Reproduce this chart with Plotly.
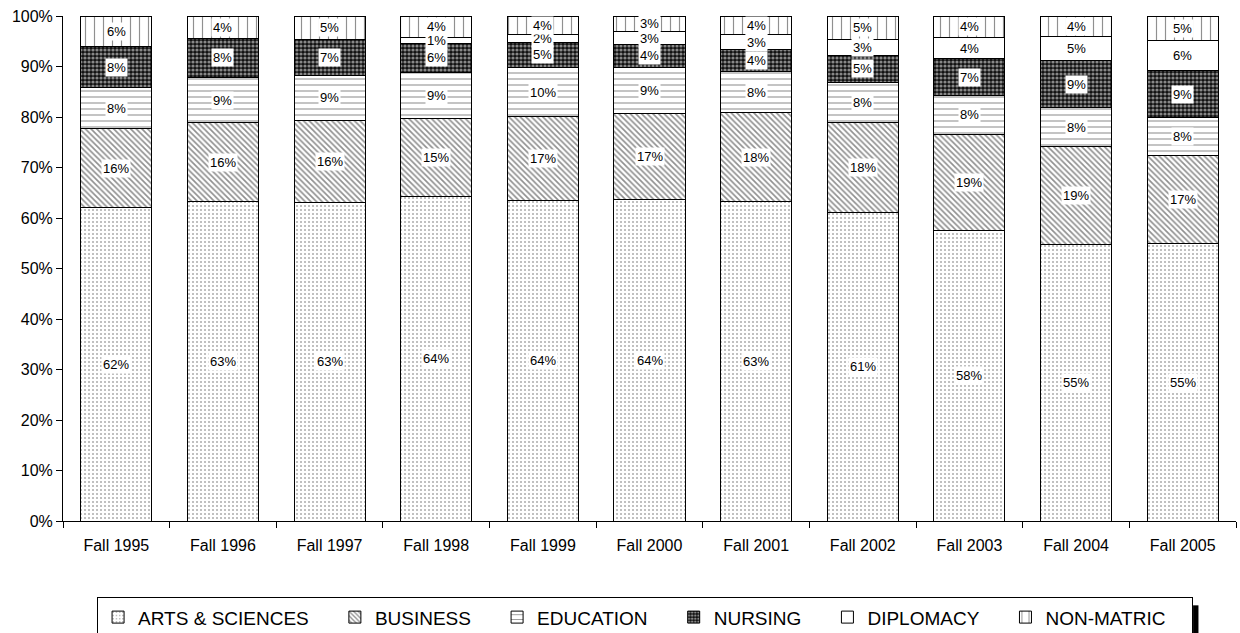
import plotly.graph_objects as go

categories = ["Fall 1995", "Fall 1996", "Fall 1997", "Fall 1998", "Fall 1999", "Fall 2000",
              "Fall 2001", "Fall 2002", "Fall 2003", "Fall 2004", "Fall 2005"]

arts_sciences = [62.0, 63.2, 63.0, 64.3, 63.5, 63.6, 63.2, 61.0, 57.6, 54.8, 54.9]
business      = [15.7, 15.7, 16.4, 15.4, 16.6, 17.1, 17.7, 17.9, 19.0, 19.4, 17.4]
education     = [8.1, 8.9, 8.9, 9.2, 9.7, 9.2, 8.1, 8.0, 7.6, 7.6, 7.6]
nursing       = [8.2, 7.8, 7.1, 5.6, 5.0, 4.4, 4.4, 5.3, 7.3, 9.3, 9.3]
diplomacy     = [0.0, 0.0, 0.0, 1.2, 1.6, 2.6, 2.9, 3.2, 4.3, 4.8, 6.0]
non_matric    = [6.0, 4.4, 4.6, 4.3, 3.6, 3.1, 3.7, 4.6, 4.2, 4.1, 4.8]

series_names = ["ARTS & SCIENCES", "BUSINESS", "EDUCATION", "NURSING", "DIPLOMACY", "NON-MATRIC"]
series_values = [arts_sciences, business, education, nursing, diplomacy, non_matric]
series_patterns = [
    dict(shape=".", fgcolor="#555555", bgcolor="white", size=4, solidity=0.2),
    dict(shape="\\", fgcolor="#222222", bgcolor="white", size=4, solidity=0.42),
    dict(shape="-", fgcolor="#222222", bgcolor="white", size=6, solidity=0.18),
    dict(shape=".", fgcolor="white", bgcolor="#111111", size=4, solidity=0.5),
    dict(shape="", fgcolor="black", bgcolor="white"),
    dict(shape="|", fgcolor="#222222", bgcolor="white", size=9, solidity=0.13),
]

FONT = "Arial, Liberation Sans, sans-serif"
PAD = "\u00a0" * 4  # spacing between legend entries

fig = go.Figure()
annotations = []
base = [0.0] * len(categories)
for name, vals, pat in zip(series_names, series_values, series_patterns):
    fig.add_trace(go.Bar(
        name=name + PAD, x=categories, y=vals,
        marker=dict(color="white", pattern=pat, line=dict(color="black", width=1)),
        hovertemplate="%{x}<br>" + name + ": %{y:.1f}%<extra></extra>",
    ))
    for i, v in enumerate(vals):
        if v >= 0.5:
            annotations.append(dict(
                x=categories[i], y=base[i] + v / 2, xref="x", yref="y",
                text=f"{round(v)}%", showarrow=False,
                font=dict(family=FONT, size=13, color="black"),
                bgcolor="white", borderpad=1,
            ))
        base[i] += v

fig.update_layout(
    barmode="stack",
    bargap=0.334,
    width=1240, height=633,
    margin=dict(l=63, r=4, t=16, b=112, autoexpand=False),
    paper_bgcolor="white", plot_bgcolor="white",
    font=dict(family=FONT, size=16, color="black"),
    annotations=annotations,
    showlegend=True,
    legend=dict(
        orientation="h", x=0.9634, xanchor="right", y=-0.151, yanchor="top",
        bordercolor="black", borderwidth=1, bgcolor="white",
        font=dict(family=FONT, size=19, color="black"),
        traceorder="normal",
    ),
    shapes=[dict(type="rect", xref="paper", yref="paper",
                 x0=0.9634, x1=0.9680, y0=-0.167, y1=-0.23,
                 fillcolor="black", line=dict(width=0))],
)
fig.update_xaxes(
    showline=True, linecolor="black", linewidth=1, automargin=False,
    ticks="outside", ticklen=6, tickcolor="black", tickson="boundaries",
    ticklabelstandoff=10,
    tickfont=dict(family=FONT, size=16), showgrid=False,
)
fig.update_yaxes(
    range=[0, 100], dtick=10, ticksuffix="%", automargin=False,
    showline=True, linecolor="black", linewidth=1,
    ticks="outside", ticklen=6, tickcolor="black",
    ticklabelstandoff=0,
    tickfont=dict(family=FONT, size=16), showgrid=False, zeroline=False,
)

fig.write_html(
    "out.html",
    config={"displayModeBar": False},
    post_script="document.body.style.margin='0';document.body.style.overflow='hidden';",
)
